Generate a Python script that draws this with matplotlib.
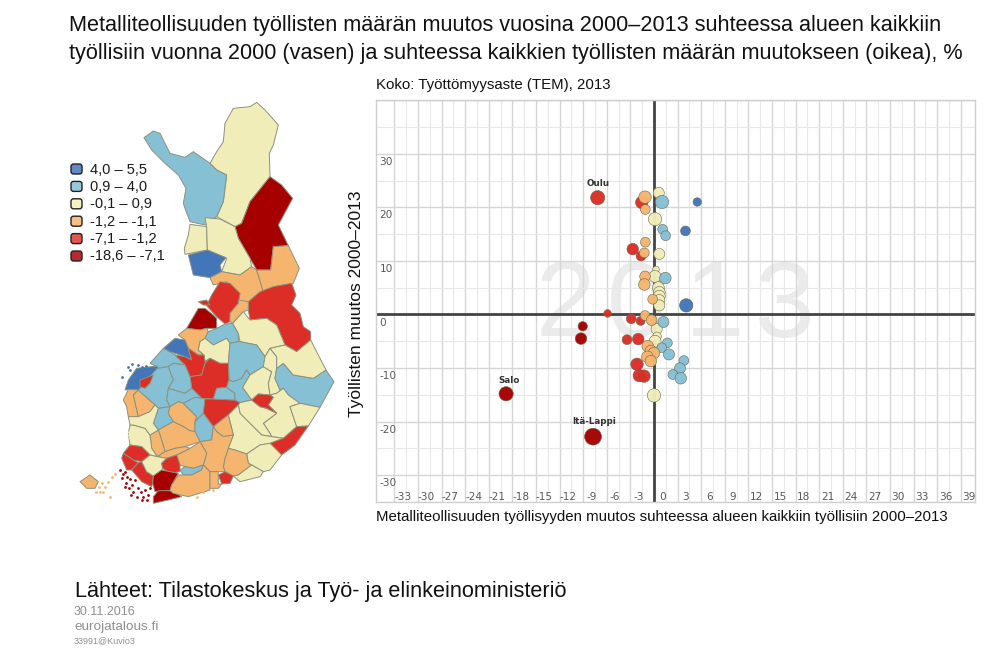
import numpy as np
import matplotlib
matplotlib.use('Agg')
import matplotlib.pyplot as plt
from matplotlib.patches import Polygon, FancyBboxPatch

plt.rcParams['font.family'] = ['Liberation Sans', 'DejaVu Sans']

W, H = 1000, 653

# class colours, highest class first
BLUE, LBLUE, CREAM, ORANGE, RED, DARK = '#4376b8', '#85c0d5', '#f1edb9', '#f5b56f', '#dc2e26', '#a60000'

legend_labels = ['4,0 – 5,5', '0,9 – 4,0', '-0,1 – 0,9', '-1,2 – -1,1', '-7,1 – -1,2', '-18,6 – -7,1']
legend_colors = ['#5f8bc4', '#96cadb', '#f4f0c4', '#f6c084', '#e2584f', '#b82c30']

# bubbles: change share (x), change in employment (y), unemployment rate
cream_x = [0.6, 0.13, 0.67, 0.25, 0.13, 0.55, 0.67, 0.67, 0.67, 0.67, 0.34, 0.38, 0.13, 0.0]
cream_y = [22.7, 17.8, 11.3, 8.4, 7.1, 5.0, 4.1, 3.4, 2.7, 1.7, -2.7, -4.1, -5.0, -15.1]
cream_tem = [12.5, 15, 12.5, 7.5, 13.5, 13.5, 13.5, 13.5, 12.5, 12.5, 12.5, 10, 13.5, 15]

lblue_x = [1.02, 1.1, 1.48, 1.44, 1.2, 1.7, 0.98, 1.9, 3.8, 3.3, 2.4, 3.4]
lblue_y = [21.0, 15.9, 14.7, 6.8, -1.4, -5.3, -6.2, -7.45, -8.6, -10.05, -11.2, -11.9]
lblue_tem = [15, 11, 11, 13, 12.5, 11, 11, 12.5, 11, 12.5, 11, 13]

red_x = [-7.16, -1.56, -2.7, -1.65, -5.9, -2.9, -1.7, -3.43, -2.0, -2.16, -1.87, -1.27]
red_y = [21.8, 20.9, 12.2, 10.9, 0.2, -0.8, -1.2, -4.7, -4.6, -9.3, -11.4, -11.5]
red_tem = [16, 14, 13, 11, 8.5, 11, 10, 11, 13, 14, 14, 14]

orange_x = [-1.14, -1.1, -1.1, -1.23, -1.14, -1.23, -0.17, -1.14, -0.3, -0.8, -0.4, 0.0, -0.85, -0.4]
orange_y = [21.9, 19.6, 13.5, 11.5, 7.1, 5.6, 2.85, -0.2, -1.05, -5.9, -6.8, -7.2, -7.9, -8.7]
orange_tem = [14, 11, 11, 11, 12, 13, 11, 11, 12, 13, 13, 13, 13, 13]

dark_x = [-7.75, -18.8, -9.06, -9.28]
dark_y = [-22.8, -14.8, -2.2, -4.5]
dark_tem = [19, 16, 10.5, 13]

blue_x = [5.5, 4.0, 4.1]
blue_y = [21.0, 15.6, 1.7]
blue_tem = [9.5, 11, 15]

bubble_groups = [(cream_x, cream_y, cream_tem, CREAM), (lblue_x, lblue_y, lblue_tem, LBLUE),
                 (red_x, red_y, red_tem, RED), (orange_x, orange_y, orange_tem, ORANGE),
                 (dark_x, dark_y, dark_tem, DARK), (blue_x, blue_y, blue_tem, BLUE)]

named_bubbles = [('Oulu', -7.16, 21.8, 1, 14), ('Salo', -18.8, -14.8, 3, 13), ('Itä-Lappi', -7.75, -22.8, 1, 15)]

x_ticks = list(range(-33, 40, 3))
y_ticks = [-30, -20, -10, 0, 10, 20, 30]
watermark_digits = ['2', '0', '1', '3']

# map outlines (no geodata available offline)
# north part is in pixels*3 from (50, 95), south part in pixels*3 from (70, 300)
north_regions = [
    (CREAM, [(480,205),(500,170),(520,140),(525,85),(550,40),(600,35),(620,22),(645,45),(685,90),(670,150),(658,175),(660,245),(640,270),(600,320),(575,385),(555,395),(500,365),(520,320),(530,240),(500,225)]),
    (LBLUE, [(282,128),(310,108),(330,115),(360,175),(405,187),(430,170),(480,205),(500,225),(530,240),(520,320),(500,365),(465,390),(420,380),(405,340),(400,325),(408,280),(385,240),(345,205),(305,165)]),
    (DARK, [(660,245),(695,270),(728,310),(685,390),(715,452),(670,455),(662,525),(620,525),(600,490),(565,430),(555,395),(575,385),(600,320),(640,270)]),
    (CREAM, [(420,388),(470,395),(472,465),(405,478),(403,460),(415,420)]),
    (CREAM, [(465,368),(510,372),(555,395),(565,430),(600,490),(605,515),(570,540),(515,530),(530,490),(472,465),(470,395)]),
    (BLUE, [(415,480),(472,465),(528,488),(510,510),(515,530),(480,548),(430,540),(420,500)]),
    (ORANGE, [(480,548),(515,530),(570,540),(605,515),(620,525),(640,590),(640,600),(600,628),(575,640),(530,560),(490,570)]),
    (ORANGE, [(620,525),(662,525),(670,455),(715,452),(748,520),(730,565),(670,575),(640,590)]),
]

south_regions = [
    (RED, [(535,5),(570,-25),(610,-40),(665,-50),(678,-15),(665,15),(690,40),(700,80),(722,95),(722,120),(680,155),(645,135),(620,75),(590,55),(540,60),(535,30)]),
    (RED, [(425,-15),(450,-55),(480,-50),(510,-20),(505,10),(480,40),(480,65),(465,72),(440,50),(408,15),(418,0)]),
    (ORANGE, [(505,10),(505,0),(535,5),(535,30),(520,35),(488,70),(480,65),(480,40)]),
    (RED, [(385,5),(410,0),(420,15),(400,15)]),
    (DARK, [(350,85),(385,25),(405,25),(430,45),(440,55),(440,85),(410,85),(390,90)]),
    (ORANGE, [(325,105),(350,85),(390,90),(410,85),(415,95),(405,115),(390,125),(385,150),(402,165),(385,165),(355,145),(345,120)]),
    (LBLUE, [(405,115),(415,95),(440,85),(465,72),(488,70),(505,100),(505,125),(480,130),(470,115),(430,135)]),
    (CREAM, [(488,70),(520,35),(540,60),(590,55),(620,75),(645,135),(600,145),(585,170),(560,135),(510,125),(505,100)]),
    (CREAM, [(390,125),(405,115),(430,135),(470,115),(480,130),(475,190),(450,190),(420,175),(405,185),(402,165),(385,150)]),
    (LBLUE, [(480,130),(505,125),(510,125),(560,135),(585,170),(580,200),(540,225),(530,210),(515,235),(490,245),(477,240),(475,190)]),
    (LBLUE, [(240,190),(280,145),(300,155),(315,165),(345,195),(310,190),(295,200),(262,205),(260,200)]),
    (BLUE, [(280,145),(315,115),(345,120),(355,145),(365,180),(345,170),(300,155)]),
    (RED, [(315,165),(345,170),(365,180),(355,145),(385,165),(402,165),(405,185),(420,175),(405,190),(395,225),(360,230),(345,195)]),
    (RED, [(405,190),(420,175),(450,190),(475,190),(477,240),(470,262),(440,265),(430,297),(395,295),(365,265),(360,230),(395,225)]),
    (BLUE, [(165,270),(175,240),(200,205),(262,198),(262,205),(240,230),(205,270),(180,268)]),
    (LBLUE, [(205,270),(240,230),(262,205),(295,200),(310,240),(295,265),(290,300),(300,320),(265,325),(255,315),(215,280)]),
    (RED, [(210,240),(250,225),(240,250),(225,265),(210,260)]),
    (LBLUE, [(295,200),(310,190),(345,195),(360,230),(365,265),(345,280),(295,265),(310,240)]),
    (LBLUE, [(295,265),(345,280),(365,265),(395,295),(375,292),(340,310),(325,305),(300,320),(290,300)]),
    (ORANGE, [(160,300),(175,268),(205,270),(190,285),(205,350),(175,350),(170,320)]),
    (ORANGE, [(190,285),(205,270),(215,280),(255,315),(240,335),(205,350)]),
    (LBLUE, [(265,325),(300,320),(295,340),(310,365),(265,390),(250,370)]),
    (ORANGE, [(300,320),(325,305),(340,310),(380,350),(375,365),(375,395),(360,392),(340,380),(310,365),(295,340)]),
    (LBLUE, [(340,310),(375,292),(395,295),(405,297),(400,340),(375,365),(380,350)]),
    (RED, [(405,297),(430,297),(495,300),(510,308),(505,315),(475,345),(455,360),(430,380),(400,340)]),
    (LBLUE, [(375,365),(400,340),(430,380),(425,420),(390,425),(375,395)]),
    (LBLUE, [(430,297),(440,265),(470,262),(495,280),(495,300)]),
    (LBLUE, [(477,240),(490,245),(515,235),(530,210),(540,225),(518,262),(545,300),(510,308),(495,300),(495,280),(470,262)]),
    (CREAM, [(518,262),(540,225),(580,200),(605,215),(595,250),(600,285),(565,282),(545,300)]),
    (CREAM, [(585,170),(600,145),(620,170),(620,205),(615,235),(630,270),(640,265),(620,280),(600,285),(595,250),(605,215),(580,200)]),
    (LBLUE, [(620,205),(640,190),(670,225),(730,235),(768,210),(792,245),(750,322),(690,310),(655,285),(640,265),(630,270),(615,235)]),
    (CREAM, [(600,145),(645,135),(680,155),(722,120),(768,210),(730,235),(670,225),(640,190),(620,205),(620,170)]),
    (CREAM, [(595,315),(610,292),(600,285),(620,280),(640,265),(655,285),(690,310),(660,320),(680,380),(640,415),(605,410),(600,400),(580,370),(620,340)]),
    (CREAM, [(660,320),(690,310),(750,322),(715,378),(680,380)]),
    (CREAM, [(510,308),(545,300),(570,320),(590,325),(620,340),(580,370),(600,400),(605,410),(575,405),(540,370),(510,340),(505,315)]),
    (RED, [(545,300),(565,282),(600,285),(610,292),(595,315),(620,340),(590,325),(570,320)]),
    (CREAM, [(475,345),(505,315),(510,340),(540,370),(575,405),(605,410),(640,415),(600,430),(570,435),(530,462),(495,450),(475,445),(490,405)]),
    (RED, [(600,430),(640,415),(680,380),(715,378),(675,435),(635,465)]),
    (CREAM, [(530,462),(570,435),(600,430),(635,465),(600,510),(580,515),(545,495),(535,490)]),
    (ORANGE, [(465,475),(475,445),(495,450),(530,462),(535,490),(545,495),(505,525),(490,528),(465,515),(460,500)]),
    (CREAM, [(490,528),(505,525),(545,495),(580,515),(570,530),(510,545)]),
    (ORANGE, [(430,380),(455,360),(475,345),(490,405),(460,410),(440,395)]),
    (ORANGE, [(390,425),(425,420),(430,380),(440,395),(460,410),(490,405),(475,445),(465,475),(460,500),(465,515),(445,515),(420,515),(400,495),(410,460)]),
    (ORANGE, [(320,465),(360,445),(390,425),(410,460),(400,495),(370,505),(345,500),(330,495)]),
    (ORANGE, [(265,390),(310,365),(340,380),(360,392),(375,395),(390,425),(345,440),(315,445),(285,455),(275,420)]),
    (ORANGE, [(240,405),(265,390),(275,420),(285,455),(262,470),(245,445)]),
    (ORANGE, [(262,470),(285,455),(315,445),(345,440),(360,445),(320,465),(290,475)]),
    (CREAM, [(175,400),(180,375),(190,375),(225,385),(240,405),(245,445),(262,470),(240,465),(215,440),(180,435)]),
    (CREAM, [(175,350),(205,350),(240,335),(255,315),(265,325),(250,370),(265,390),(240,405),(225,385),(190,375),(180,375)]),
    (RED, [(160,460),(180,435),(215,440),(240,465),(215,485),(190,480)]),
    (RED, [(155,475),(160,460),(190,480),(205,488),(185,510),(170,510)]),
    (RED, [(185,510),(205,488),(215,485),(230,515),(250,528),(248,550),(245,560),(215,545)]),
    (CREAM, [(215,485),(240,465),(262,470),(290,475),(275,490),(278,505),(275,510),(250,528),(230,515)]),
    (RED, [(275,490),(290,475),(320,465),(330,495),(330,515),(300,520),(278,505)]),
    (LBLUE, [(330,510),(345,500),(370,505),(400,495),(395,510),(365,525),(340,525)]),
    (DARK, [(248,550),(250,528),(275,510),(325,520),(305,555),(300,572),(255,575)]),
    (DARK, [(250,590),(265,572),(305,572),(335,590),(295,600),(250,610)]),
    (ORANGE, [(300,572),(305,555),(325,525),(365,525),(395,510),(400,495),(420,515),(420,570),(355,590),(310,580)]),
    (ORANGE, [(420,515),(445,515),(445,552),(455,552),(445,565),(420,565)]),
    (RED, [(445,525),(465,515),(490,528),(480,550),(455,552)]),
    (ORANGE, [(30,545),(60,525),(85,545),(75,565),(50,565)]),
]

# archipelago specks, same frame as south part
dark_isl_x = [150, 158, 165, 172, 180, 155, 168, 185, 195, 205, 178, 190, 165, 182, 200, 212, 225, 235, 215, 230, 240, 218]
dark_isl_y = [510, 522, 515, 530, 538, 535, 548, 555, 540, 565, 565, 575, 560, 585, 590, 575, 570, 585, 600, 600, 565, 590]
orange_isl_x = [88, 95, 105, 115, 125, 135, 100, 90, 78, 120, 380, 400, 430]
orange_isl_y = [560, 550, 560, 545, 530, 522, 575, 575, 575, 590, 590, 575, 570]
blue_isl_x = [175, 185, 180, 205, 215, 228, 155]
blue_isl_y = [200, 192, 210, 195, 200, 198, 232]
cream_isl_x = [178, 176, 180]
cream_isl_y = [395, 405, 415]

fig = plt.figure(figsize=(W / 100, H / 100), dpi=100)
bg = fig.add_axes([0, 0, 1, 1])
bg.set_xlim(0, W)
bg.set_ylim(H, 0)
bg.axis('off')

for color, pts in north_regions:
    arr = np.array(pts) / 3.0 + [50, 95]
    bg.add_patch(Polygon(arr, closed=True, fc=color, ec='#8d917c', lw=0.7))
for color, pts in south_regions:
    arr = np.array(pts) / 3.0 + [70, 300]
    bg.add_patch(Polygon(arr, closed=True, fc=color, ec='#8d917c', lw=0.7))
for xs, ys, c in [(dark_isl_x, dark_isl_y, DARK), (orange_isl_x, orange_isl_y, ORANGE),
                  (blue_isl_x, blue_isl_y, BLUE), (cream_isl_x, cream_isl_y, CREAM)]:
    bg.plot(np.array(xs) / 3.0 + 70, np.array(ys) / 3.0 + 300, ls='none', marker='o', ms=2, mfc=c, mec='none')

# legend of the map
for i, (lab, c) in enumerate(zip(legend_labels, legend_colors)):
    top = 163 + i * 17.4
    bg.add_patch(FancyBboxPatch((71, top + 1), 11, 10, boxstyle='round,pad=0,rounding_size=2.5',
                                fc=c, ec='#222222', lw=1.0))
    bg.text(90.5, top + 6.5, lab, fontsize=10.5, va='center', ha='left', color='#1a1a1a')

# texts around the panels
bg.text(69, 26, 'Metalliteollisuuden työllisten määrän muutos vuosina 2000–2013 suhteessa alueen kaikkiin',
        fontsize=15.55, va='center', color='#111111')
bg.text(69, 53, 'työllisiin vuonna 2000 (vasen) ja suhteessa kaikkien työllisten määrän muutokseen (oikea), %',
        fontsize=15.55, va='center', color='#111111')
bg.text(376, 85, 'Koko: Työttömyysaste (TEM), 2013', fontsize=10.8, va='center', color='#111111')
bg.text(376.5, 517, 'Metalliteollisuuden työllisyyden muutos suhteessa alueen kaikkiin työllisiin 2000–2013',
        fontsize=10.83, va='center', color='#111111')
bg.text(357, 304, 'Työllisten muutos 2000–2013', fontsize=12.5, rotation=90, va='center', ha='center', color='#111111')
bg.text(75, 592, 'Lähteet: Tilastokeskus ja Työ- ja elinkeinoministeriö', fontsize=15.6, va='center', color='#111111')
bg.text(74, 612, '30.11.2016', fontsize=9, va='center', color='#8f8f8f')
bg.text(74, 627, 'eurojatalous.fi', fontsize=9.7, va='center', color='#8f8f8f')
bg.text(74, 641, '33991@Kuvio3', fontsize=6.5, va='center', color='#8f8f8f')

# bubble chart
left, right, top, bottom = 376, 975, 100, 502
x0, ux = 654, 7.867
y0, uy = 315, 5.37
ax = fig.add_axes([left / W, 1 - bottom / H, (right - left) / W, (bottom - top) / H])
ax.set_xlim((left - x0) / ux, (right - x0) / ux)
ax.set_ylim((y0 - bottom) / uy, (y0 - top) / uy)
ax.patch.set_alpha(0)
for s in ax.spines.values():
    s.set_color('#cfcfcf')
    s.set_linewidth(1)
ax.tick_params(length=0, labelbottom=False, labelleft=False)
ax.set_xticks(x_ticks)
ax.set_yticks(y_ticks + [40])
ax.set_xticks(np.array(x_ticks[:-1]) + 1.5, minor=True)
ax.set_yticks(np.arange(-35, 40, 10), minor=True)
ax.tick_params(which='minor', length=0)
ax.set_axisbelow(True)
ax.grid(which='major', color='#d6d6d6', lw=1.0)
ax.grid(which='minor', color='#e8e8e8', lw=0.8)
ax.axhline(0, color='#444444', lw=2, zorder=1.5)
ax.axvline(0, color='#444444', lw=2, zorder=1.5)

# big pale year behind the grid
for d, cx in zip(watermark_digits, [565, 637, 715, 785]):
    ax.text(cx, 308.5, d, transform=bg.transData, fontsize=77, color='#ebebeb', ha='center', va='center', zorder=0.5)

for v in x_ticks:
    ax.annotate(str(v), (v, ax.get_ylim()[0]), xytext=(6, 0), textcoords='offset points', ha='center', va='bottom',
                fontsize=7.6, color='#5a5a5a', family='DejaVu Sans')
for v in y_ticks:
    ax.annotate(str(v), (ax.get_xlim()[0], v), xytext=(2.5, -5.8), textcoords='offset points', ha='left', va='center',
                fontsize=7.6, color='#5a5a5a', family='DejaVu Sans')

for xs, ys, tem, c in bubble_groups:
    ax.scatter(xs, ys, s=(np.array(tem) * 0.64) ** 2, c=c, edgecolors=[(0.4, 0.4, 0.3, 0.1)], linewidths=0.4,
               alpha=0.97, zorder=3)

for name, bx, by, dx, dy in named_bubbles:
    ax.annotate(name, (bx, by), xytext=(dx, dy), textcoords='offset pixels', ha='center', va='center',
                fontsize=6.3, fontweight='bold', color='#333333', family='DejaVu Sans', zorder=4)

fig.savefig('out.png', dpi=100)
